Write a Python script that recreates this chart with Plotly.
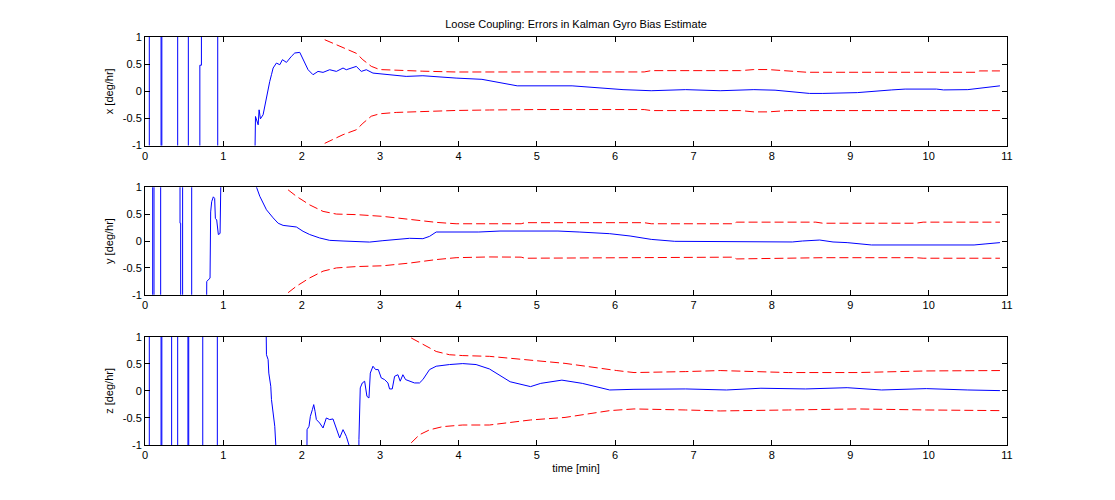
import plotly.graph_objects as go

# axes ticks (time in minutes, bias error in deg/hr)
X_TICKS = list(range(0, 12))
Y_TICKS = [-1, -0.5, 0, 0.5, 1]
Y_TICK_LABELS = ["-1", "-0.5", "0", "0.5", "1"]

# x-gyro bias error; +/-3 marks the off-scale swings of the first minute
T_X = [0, 0.055, 0.055, 0.205, 0.205, 0.215, 0.215, 0.417, 0.417, 0.553, 0.553,
       0.70, 0.70, 0.72, 0.72, 0.928, 0.928, 1.385,
       1.410, 1.444, 1.456, 1.473, 1.507, 1.550, 1.571, 1.592, 1.614, 1.635,
       1.677, 1.720, 1.754, 1.805, 1.868, 1.911, 1.975, 2.017, 2.081, 2.144,
       2.208, 2.272, 2.357, 2.442, 2.527, 2.569, 2.696, 2.760, 2.824, 2.909,
       2.994, 3.121, 3.333, 3.546, 3.758, 3.970, 4.30, 4.48, 4.70, 4.75,
       5.45, 5.80, 6.10, 6.46, 6.90, 7.34, 7.77, 8.04, 8.20, 8.48, 8.65,
       9.09, 9.53, 9.70, 10.10, 10.19, 10.50, 10.67, 10.91]
ERR_X = [3, 3, -3, -3, 3, 3, -3, -3, 3, 3, -3,
         -3, 0.48, 0.48, 3, 3, -3, -3,
         -0.465, -0.618, -0.342, -0.508, -0.434, -0.126, 0.089, 0.182, 0.305, 0.428,
         0.52, 0.489, 0.582, 0.532, 0.643, 0.705, 0.717, 0.582, 0.397, 0.305,
         0.366, 0.348, 0.397, 0.366, 0.428, 0.397, 0.458, 0.366, 0.397, 0.335,
         0.323, 0.305, 0.274, 0.286, 0.262, 0.243, 0.22, 0.17, 0.11, 0.10,
         0.10, 0.06, 0.03, 0.01, 0.03, 0.01, 0.03, 0.02, 0.0, -0.04, -0.04,
         -0.025, 0.025, 0.04, 0.04, 0.025, 0.03, 0.06, 0.10]
T_X_SIG = [2.293, 2.527, 2.696, 2.781, 2.887, 2.994, 3.206, 3.546, 3.970, 4.395,
           5.0, 6.37, 6.46, 7.6, 7.77, 7.95, 8.2, 8.45, 10.6, 10.65, 10.91]
X_SIG_UP = [0.95, 0.80, 0.70, 0.58, 0.46, 0.40, 0.385, 0.37, 0.355, 0.35,
            0.356, 0.356, 0.38, 0.38, 0.40, 0.40, 0.37, 0.35, 0.35, 0.375, 0.375]
X_SIG_LO = [-0.96, -0.80, -0.71, -0.59, -0.46, -0.415, -0.39, -0.37, -0.354, -0.345,
            -0.337, -0.337, -0.356, -0.356, -0.38, -0.38, -0.356, -0.356, -0.356, -0.356, -0.356]

# y-gyro bias error
T_Y = [0, 0.098, 0.098, 0.115, 0.115, 0.2, 0.2, 0.447, 0.447, 0.455, 0.455,
       0.48, 0.48, 0.596, 0.596, 0.779, 0.788, 0.81, 0.83, 0.838, 0.851, 0.872,
       0.889, 0.898, 0.915, 0.936, 0.958, 0.966, 0.985, 1.415,
       1.423, 1.465, 1.550, 1.635, 1.699, 1.762, 1.847, 1.932, 2.017, 2.102,
       2.229, 2.357, 2.527, 2.696, 2.866, 3.036, 3.206, 3.376, 3.546, 3.631,
       3.716, 4.26, 4.53, 5.27, 5.54, 5.93, 6.19, 6.46, 6.76, 7.64, 8.26,
       8.39, 8.61, 8.78, 8.96, 9.27, 9.97, 10.58, 10.72, 10.91]
ERR_Y = [-3, -3, 3, 3, -3, -3, 3, 3, 0.33, 0.33, -3,
         -3, 3, 3, -3, -3, -0.75, -0.72, -0.69, 0.54, 0.73, 0.82,
         0.79, 0.42, 0.39, 0.12, 0.14, 0.91, 3, 3,
         1.0, 0.83, 0.58, 0.43, 0.33, 0.29, 0.28, 0.26, 0.18, 0.12,
         0.056, 0.012, 0.0, -0.012, -0.02, 0.006, 0.025, 0.05, 0.043, 0.086,
         0.167, 0.167, 0.185, 0.185, 0.167, 0.136, 0.093, 0.03, -0.006, -0.012, -0.018,
         0.0, 0.018, -0.018, -0.03, -0.074, -0.08, -0.074, -0.055, -0.03]
T_Y_SIG = [1.826, 1.932, 2.102, 2.272, 2.442, 2.696, 3.036, 3.376, 3.716, 3.970,
           4.395, 4.8, 4.85, 6.37, 6.46, 7.5, 7.55, 8.56, 8.65, 9.84, 9.93, 10.91]
Y_SIG_UP = [0.95, 0.83, 0.67, 0.55, 0.50, 0.49, 0.457, 0.395, 0.346, 0.32,
            0.315, 0.32, 0.34, 0.34, 0.32, 0.32, 0.35, 0.35, 0.33, 0.33, 0.35, 0.35]
Y_SIG_LO = [-0.96, -0.84, -0.685, -0.56, -0.50, -0.475, -0.46, -0.41, -0.345, -0.31,
            -0.296, -0.30, -0.32, -0.31, -0.30, -0.30, -0.333, -0.32, -0.31, -0.31, -0.32, -0.32]

# z-gyro bias error
T_Z = [0, 0.055, 0.055, 0.205, 0.205, 0.215, 0.215, 0.34, 0.34, 0.417, 0.417,
       0.548, 0.548, 0.558, 0.558, 0.737, 0.737, 0.923, 0.923, 1.53,
       1.550, 1.571, 1.580, 1.592, 1.605, 1.614, 1.635, 1.656, 1.669, 1.675,
       2.060, 2.068, 2.093, 2.110, 2.136, 2.153, 2.170, 2.187, 2.229, 2.272,
       2.314, 2.357, 2.399, 2.442, 2.484, 2.527, 2.569, 2.603, 2.610, 2.725,
       2.730, 2.747, 2.773, 2.803, 2.832, 2.858, 2.875, 2.909, 2.943, 2.977,
       3.015, 3.057, 3.100, 3.121, 3.155, 3.185, 3.227, 3.257, 3.291, 3.325,
       3.376, 3.439, 3.503, 3.546, 3.631, 3.716, 3.885, 4.055, 4.225, 4.395,
       4.66, 4.92, 5.05, 5.32, 5.58, 5.93, 6.24, 6.90, 7.42, 7.86, 8.43,
       8.96, 9.40, 9.97, 10.50, 10.91]
ERR_Z = [-3, -3, 3, 3, -3, -3, 3, 3, -3, -3, 3,
         3, -3, -3, 3, 3, -3, -3, 3, 3,
         0.67, 0.58, 0.33, 0.21, 0.086, -0.16, -0.41, -0.654, -1.0, -3,
         -3, -0.716, -0.654, -0.47, -0.346, -0.253, -0.377, -0.53, -0.593, -0.685,
         -0.5, -0.53, -0.518, -0.716, -0.87, -0.716, -0.84, -1.0, -3, -3,
         -0.9, 0.056, 0.148, 0.179, -0.1, -0.13, 0.33, 0.457, 0.395, 0.395,
         0.24, 0.21, 0.148, 0.037, 0.037, 0.27, 0.30, 0.18, 0.30, 0.21,
         0.18, 0.148, 0.148, 0.21, 0.395, 0.457, 0.488, 0.506, 0.488, 0.407,
         0.17, 0.08, 0.14, 0.20, 0.14, 0.018, 0.03, 0.037, 0.018, 0.05, 0.037,
         0.06, 0.018, 0.043, 0.018, 0.006]
T_Z_SIG_UP = [3.397, 3.546, 3.716, 3.885, 4.055, 4.395, 4.79, 5.36, 6.02, 6.24,
              6.90, 7.34, 8.21, 9.09, 9.97, 10.91]
Z_SIG_UP = [0.98, 0.86, 0.73, 0.67, 0.654, 0.64, 0.586, 0.51, 0.377, 0.34,
            0.358, 0.377, 0.34, 0.34, 0.37, 0.377]
T_Z_SIG_LO = [3.397, 3.503, 3.631, 3.80, 4.055, 4.395, 4.92, 5.36, 5.93, 6.24,
              6.90, 7.34, 8.21, 9.09, 9.97, 10.91]
Z_SIG_LO = [-0.96, -0.81, -0.72, -0.66, -0.63, -0.63, -0.537, -0.49, -0.364, -0.333,
            -0.352, -0.37, -0.352, -0.333, -0.352, -0.364]

FONT = "Liberation Sans, Arial, Helvetica, sans-serif"
BLUE = "#0000ff"
RED = "#ff0000"

panels = [
    ("x [deg/hr]", T_X, ERR_X, T_X_SIG, X_SIG_UP, T_X_SIG, X_SIG_LO, [0.734, 1.0]),
    ("y [deg/hr]", T_Y, ERR_Y, T_Y_SIG, Y_SIG_UP, T_Y_SIG, Y_SIG_LO, [0.368, 0.632]),
    ("z [deg/hr]", T_Z, ERR_Z, T_Z_SIG_UP, Z_SIG_UP, T_Z_SIG_LO, Z_SIG_LO, [0.0, 0.265]),
]

axis_style = dict(
    showline=True, linecolor="black", linewidth=1, mirror="ticks",
    ticks="inside", ticklen=5, tickcolor="black", showgrid=False,
    zeroline=False, automargin=False,
    tickfont=dict(size=11, color="black", family=FONT),
)

fig = go.Figure()
layout = {}
for i, (label, t, err, tu, up, tl, lo, dom) in enumerate(panels, start=1):
    xa = "x" if i == 1 else f"x{i}"
    ya = "y" if i == 1 else f"y{i}"
    fig.add_trace(go.Scatter(x=t, y=err, mode="lines", xaxis=xa, yaxis=ya,
                             line=dict(color=BLUE, width=1)))
    for ts, sig in ((tu, up), (tl, lo)):
        fig.add_trace(go.Scatter(x=ts, y=sig, mode="lines", xaxis=xa, yaxis=ya,
                                 line=dict(color=RED, width=1, dash="9px,4px")))
    layout["xaxis" if i == 1 else f"xaxis{i}"] = dict(
        axis_style, range=[0, 11], tickvals=X_TICKS, domain=[0, 1], anchor=ya)
    layout["yaxis" if i == 1 else f"yaxis{i}"] = dict(
        axis_style, range=[-1, 1], tickvals=Y_TICKS, ticktext=Y_TICK_LABELS,
        domain=dom, anchor=xa,
        title=dict(text=label, standoff=6, font=dict(size=11, family=FONT)))

layout["xaxis3"]["title"] = dict(text="time [min]", standoff=4,
                                 font=dict(size=11, family=FONT))

# page body adds an 8px offset, so margins are trimmed on the top/left
fig.update_layout(
    **layout,
    width=1115, height=500,
    margin=dict(l=137, r=116, t=29, b=63),
    showlegend=False,
    plot_bgcolor="white", paper_bgcolor="white",
    font=dict(family=FONT, size=11, color="black"),
    title=dict(text="Loose Coupling: Errors in Kalman Gyro Bias Estimate",
               x=0.5, xref="paper", y=0.968, yanchor="middle",
               font=dict(size=11, family=FONT, color="black")),
)

fig.write_html("out.html")
